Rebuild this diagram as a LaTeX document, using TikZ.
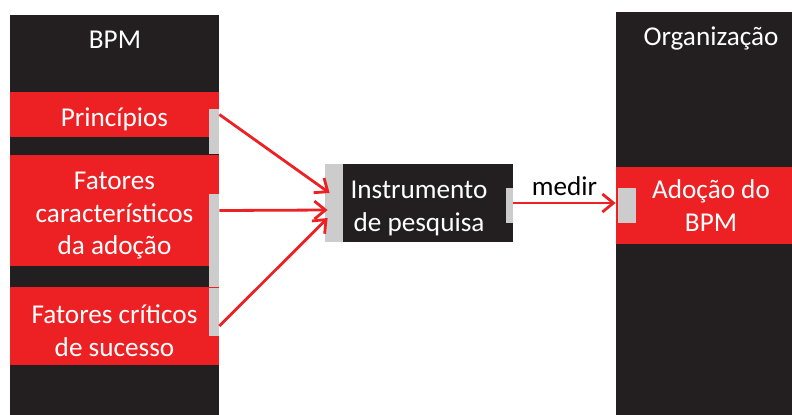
\documentclass[tikz,border=0pt]{standalone}
\usepackage{fontspec}
\setmainfont{Carlito}
\usetikzlibrary{arrows.meta,positioning,calc}
\definecolor{pretobpm}{HTML}{231F20}
\definecolor{vermelhobpm}{HTML}{ED2124}
\newcommand{\alto}{\rule{0pt}{14pt}} % taller first line, pushes the text down

\tikzset{
  coluna/.style={fill=pretobpm},
  caixa/.style={fill=vermelhobpm, text=white, align=center, inner sep=0pt,
    font=\fontsize{13.6}{16.3}\selectfont},
  titulo/.style={text=white, inner sep=0pt, font=\fontsize{13.6}{16.3}\selectfont},
  faixa/.style={fill=gray!40},
  seta/.style={draw=vermelhobpm, line width=1.4pt,
    -{Straight Barb[length=5.5pt,width=9pt]}},
}

\begin{document}
\begin{tikzpicture}[x=0.5pt, y=-0.5pt]
    \useasboundingbox (0,0) rectangle (792,414);
    \clip (0,0) rectangle (792,414); % page edge cuts the right column

    % columns
    \fill[coluna] (10,15) rectangle (219,420);
    \fill[coluna] (616,12) rectangle (806,420);
    \node[titulo] (bpm) at (115,40) {BPM};
    \node[titulo] (org) at (711,38) {Organização};

    % blocks
    \node[caixa, minimum width=104.5pt, minimum height=22.5pt] (prin) at (114.5,114.5) {\alto Princípios};
    \node[caixa, minimum width=104.5pt, minimum height=55.5pt] (caract) at (114.5,210.5) {\alto Fatores\\característicos\\da adoção};
    \node[caixa, minimum width=104.5pt, minimum height=39pt] (crit) at (114.5,326) {\alto Fatores críticos\\de sucesso};
    \node[caixa, fill=pretobpm, minimum width=94pt, minimum height=39pt] (inst) at (419,203) {\alto Instrumento\\de pesquisa};
    \node[caixa, minimum width=95pt, minimum height=38.5pt] (adoc) at (711,205.5) {Adoção do\\BPM};

    % connection strips
    \fill[faixa] (209,109) rectangle (219,154);
    \fill[faixa] (209,194) rectangle (219,287);
    \fill[faixa] (209,288) rectangle (219,336);
    \fill[faixa] (325,164) rectangle (343,242);
    \fill[faixa] (506,188) rectangle (513,223);
    \fill[faixa] (618,188) rectangle (636,223);

    % arrows
    \draw[seta] (prin.east) -- ([shift={(5,-10)}]inst.west);
    \draw[seta] (caract.east) -- ([shift={(3,7)}]inst.west);
    \draw[seta] (crit.east) -- ([shift={(3,15)}]inst.west);
    \draw[seta] (inst.east) -- (inst.east -| adoc.west)
      node[midway, above=3pt, text=black, inner sep=0pt, font=\fontsize{13.6}{16.3}\selectfont] (medir) {medir};
\end{tikzpicture}
\end{document}
